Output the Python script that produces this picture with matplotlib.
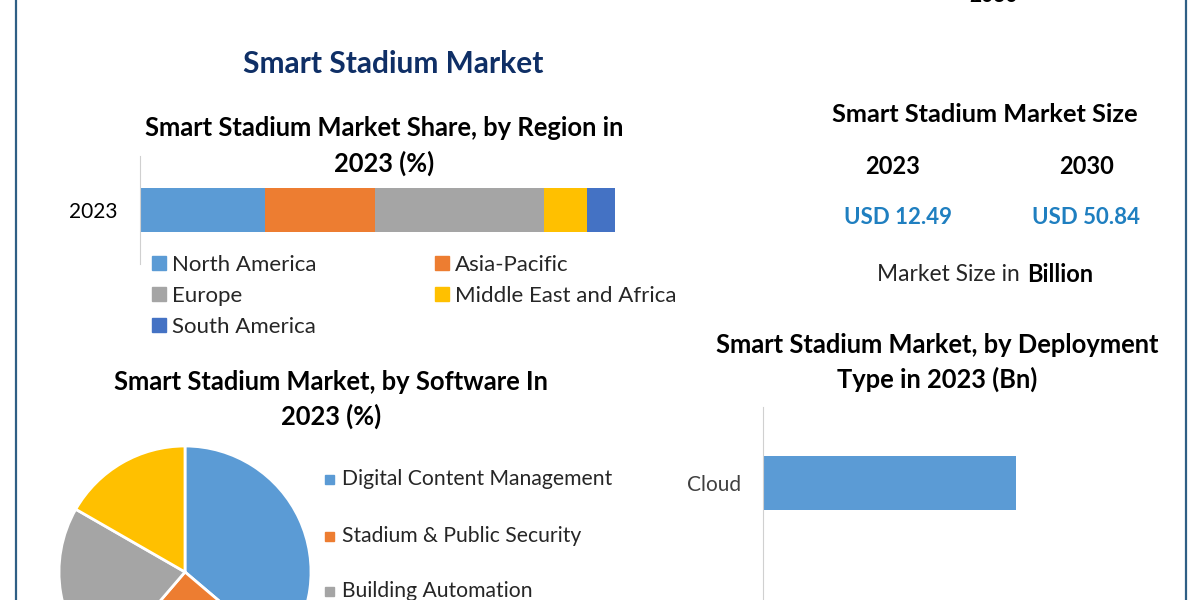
import matplotlib
matplotlib.use('Agg')
import matplotlib.pyplot as plt
from matplotlib.patches import Rectangle

W, H = 1200, 600

region_names = ['North America', 'Asia-Pacific', 'Europe', 'Middle East and Africa', 'South America']
region_share = [26.3, 23.2, 35.6, 9.0, 5.9]
region_colors = ['#5b9bd5', '#ed7d31', '#a5a5a5', '#ffc000', '#4472c4']

software_names = ['Digital Content Management', 'Stadium & Public Security', 'Building Automation']
software_share = [36.2, 25.1, 22.0, 16.7]
software_colors = ['#5b9bd5', '#ed7d31', '#a5a5a5', '#ffc000']

deployment_names = ['Cloud']
deployment_values = [7.6]

plt.rcParams['font.family'] = ['Lato', 'DejaVu Sans']

fig = plt.figure(figsize=(12, 6), dpi=100, facecolor='white')


def px_axes(left, top, right, bottom):
    # axes from picture pixels, y counted from the top
    return fig.add_axes([left / W, 1 - bottom / H, (right - left) / W, (bottom - top) / H])


def label(x, y, s, size, color='black', weight='normal', ha='center'):
    return fig.text(x / W, 1 - y / H, s, fontsize=size, color=color, fontweight=weight,
                    ha=ha, va='center')


# frame lines left and right
fig.add_artist(plt.Line2D([15.5 / W, 15.5 / W], [0, 1], color='#2f5f85', lw=1.6))
fig.add_artist(plt.Line2D([1186 / W, 1186 / W], [0, 1], color='#2f5f85', lw=1.6))

# tail of the cut off text at the very top
label(993, -4, '2030', 15, weight='bold')

label(393, 64, 'Smart Stadium Market', 21.5, color='#0f2f66', weight='bold')

# region stacked bar
label(384, 128, 'Smart Stadium Market Share, by Region in', 18.4, weight='bold')
label(384, 163, '2023 (%)', 18.4, weight='bold')

ax = px_axes(140, 156, 615, 264)
left = 0
for name, val, col in zip(region_names, region_share, region_colors):
    ax.barh(['2023'], [val], left=left, height=0.478, color=col, label=name)
    left += val
ax.set_xlim(0, sum(region_share))
ax.set_ylim(-0.6, 0.6)
for s in ['top', 'right', 'bottom']:
    ax.spines[s].set_visible(False)
ax.spines['left'].set_color('#d0d0d0')
ax.set_xticks([])
ax.tick_params(axis='y', length=0, pad=16.5, labelsize=15)

legend_x = [152, 435, 152, 435, 152]
legend_y = [263, 263, 294, 294, 325]
for name, col, x, y in zip(region_names, region_colors, legend_x, legend_y):
    fig.add_artist(Rectangle((x / W, 1 - (y + 7) / H), 14 / W, 14 / H, color=col))
    label(x + 20, y + 2, name, 16, color='#262626', ha='left')

# market size block
label(985, 115, 'Smart Stadium Market Size', 18.3, weight='bold')
label(893, 167, '2023', 17, weight='bold')
label(1087, 167, '2030', 17, weight='bold')
label(898, 218, 'USD 12.49', 16, color='#1f7fc0', weight='bold')
label(1086, 217, 'USD 50.84', 16, color='#1f7fc0', weight='bold')
label(877, 275, 'Market Size in', 16.4, color='#262626', ha='left')
label(1027, 275, 'Billion', 17, weight='bold', ha='left')

# software pie, runs past the bottom of the picture
label(331, 382, 'Smart Stadium Market, by Software In', 18.4, weight='bold')
label(331, 416, '2023 (%)', 18.4, weight='bold')

ax = px_axes(59, 446, 311, 698)
ax.pie(software_share, colors=software_colors, startangle=90, counterclock=False, radius=1,
       wedgeprops={'edgecolor': 'white', 'linewidth': 2})
ax.set_xlim(-1, 1)
ax.set_ylim(-1, 1)

software_y = [479, 536, 591]
for name, col, y in zip(software_names, software_colors, software_y):
    fig.add_artist(Rectangle((325 / W, 1 - (y + 4.5) / H), 9 / W, 9 / H, color=col))
    label(342, y, name, 15.2, color='#262626', ha='left')

# deployment bar
label(937, 345, 'Smart Stadium Market, by Deployment', 18.4, weight='bold')
label(937, 379, 'Type in 2023 (Bn)', 18.4, weight='bold')

ax = px_axes(763, 407, 1180, 601)
ax.barh(deployment_names, deployment_values, height=0.5, color='#5b9bd5')
ax.set_xlim(0, 12.55)
ax.set_ylim(-1.1, 0.71)
for s in ['top', 'right', 'bottom']:
    ax.spines[s].set_visible(False)
ax.spines['left'].set_color('#d0d0d0')
ax.set_xticks([])
ax.tick_params(axis='y', length=0, pad=15.5, labelsize=15, labelcolor='#404040')

fig.savefig('out.png', dpi=100)
